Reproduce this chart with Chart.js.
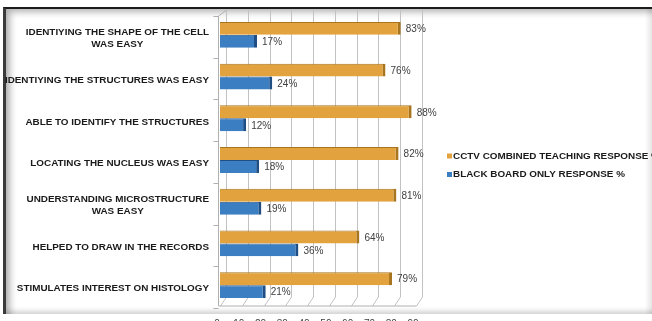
<!DOCTYPE html>
<html>
<head>
<meta charset="utf-8">
<script src="https://cdn.jsdelivr.net/npm/chart.js@4"></script>
<style>
  html, body { margin: 0; padding: 0; background: #fff; overflow: hidden; }
  #wrap { position: relative; width: 652px; height: 321px; overflow: hidden; }
  #frame {
    position: absolute; left: 3px; top: 7px; width: 660px; height: 305px;
    border-top: 2px solid #1c1c1c; border-left: 3px solid #3a3a3a;
    box-shadow: inset 7px 6px 7px -3px rgba(0,0,0,0.30), inset 0 -5px 5px -2px rgba(0,0,0,0.18);
  }
  #edge { position: absolute; right: 0; top: 9px; width: 7px; height: 305px;
    background: linear-gradient(to right, rgba(0,0,0,0), rgba(0,0,0,0.10)); }
  canvas { position: absolute; left: 0; top: 0; }
</style>
</head>
<body>
<div id="wrap">
  <div id="frame"></div>
  <div id="edge"></div>
  <canvas id="chart" width="652" height="330"></canvas>
</div>
<script>
const categories = [
  ['IDENTIYING THE SHAPE OF THE CELL', 'WAS EASY'],
  'IDENTIYING THE STRUCTURES WAS EASY',
  'ABLE TO IDENTIFY THE STRUCTURES',
  'LOCATING THE NUCLEUS WAS EASY',
  ['UNDERSTANDING MICROSTRUCTURE', 'WAS EASY'],
  'HELPED TO DRAW IN THE RECORDS',
  'STIMULATES INTEREST ON HISTOLOGY'
];
const cctvValues = [83, 76, 88, 82, 81, 64, 79];
const blackboardValues = [17, 24, 12, 18, 19, 36, 21];
const seriesNames = ['CCTV COMBINED TEACHING RESPONSE %', 'BLACK BOARD ONLY RESPONSE %'];
const axisMax = 90;
const axisStep = 10;

const labelFont = 'bold 9.9px "Liberation Sans", Arial, sans-serif';
const dx = 6, dy = 9; // 3d depth of the back wall

// back wall, floor and left wall, drawn from the scales
const wallPlugin = {
  id: 'wall',
  beforeDatasetsDraw(chart) {
    const { ctx, chartArea: a, scales: { x } } = chart;
    ctx.save();
    ctx.lineWidth = 1;
    ctx.strokeStyle = '#c2c2c2';
    x.ticks.forEach(t => {
      const px = Math.round(x.getPixelForValue(t.value)) + 0.5;
      ctx.beginPath();
      ctx.moveTo(px + dx, a.top - 4);
      ctx.lineTo(px + dx, a.bottom - dy);
      ctx.lineTo(px, a.bottom);
      ctx.stroke();
    });
    const lx = Math.round(a.left) - 1.5;
    ctx.strokeStyle = '#b0b0b0';
    ctx.beginPath();
    ctx.moveTo(lx + dx + 2, a.top - 4);
    ctx.lineTo(lx, a.top + 2);
    ctx.lineTo(lx, a.bottom);
    ctx.lineTo(Math.round(a.right) + 0.5, a.bottom);
    ctx.stroke();
    // tick marks between categories
    for (let i = 0; i <= categories.length; i++) {
      const py = Math.round(a.top + (a.bottom - a.top) * i / categories.length) + 2.5;
      ctx.beginPath();
      ctx.moveTo(lx - 5, py);
      ctx.lineTo(lx, py);
      ctx.stroke();
    }
    ctx.restore();
  },
  afterDraw(chart) {
    const { ctx, chartArea: a, scales: { y } } = chart;
    ctx.save();
    // category labels, lines centred inside a right-aligned block
    ctx.font = labelFont;
    ctx.fillStyle = '#1a1a1a';
    ctx.textAlign = 'center';
    ctx.textBaseline = 'middle';
    categories.forEach((cat, i) => {
      const lines = Array.isArray(cat) ? cat : [cat];
      const w = Math.max(...lines.map(l => ctx.measureText(l).width));
      const cx = a.left - 11 - w / 2;
      const cy = y.getPixelForValue(i) + 3.5;
      lines.forEach((l, j) => {
        ctx.fillText(l, cx, cy + (j - (lines.length - 1) / 2) * 12);
      });
    });
    // value labels
    ctx.font = '10px "Liberation Sans", Arial, sans-serif';
    ctx.fillStyle = '#404040';
    ctx.textAlign = 'left';
    chart.data.datasets.forEach((ds, di) => {
      chart.getDatasetMeta(di).data.forEach((bar, i) => {
        ctx.fillText(ds.data[i] + '%', bar.x + 5, bar.y + 1);
      });
    });
    // legend
    ctx.font = labelFont;
    const ly = (a.top + a.bottom) / 2 - 4;
    chart.data.datasets.forEach((ds, di) => {
      const yy = ly + di * 18.5;
      ctx.fillStyle = ds.backgroundColor;
      ctx.fillRect(a.right + 31, yy - 2.5, 5, 5);
      ctx.fillStyle = '#1a1a1a';
      ctx.fillText(ds.label, a.right + 37, yy);
    });
    ctx.restore();
  }
};

new Chart(document.getElementById('chart'), {
  type: 'bar',
  data: {
    labels: categories,
    datasets: [
      {
        label: seriesNames[0],
        data: cctvValues,
        backgroundColor: '#E2A23E',
        borderColor: '#A8741E',
        borderWidth: { top: 1, right: 3, bottom: 0, left: 0 },
        borderSkipped: 'left'
      },
      {
        label: seriesNames[1],
        data: blackboardValues,
        backgroundColor: '#3B7EC2',
        borderColor: '#1F4E85',
        borderWidth: { top: 1, right: 3, bottom: 0, left: 0 },
        borderSkipped: 'left'
      }
    ]
  },
  options: {
    indexAxis: 'y',
    responsive: false,
    animation: false,
    layout: { padding: { left: 0, right: 236, top: 14, bottom: 0 } },
    datasets: { bar: { categoryPercentage: 0.62, barPercentage: 1 } },
    scales: {
      x: {
        min: 0,
        max: axisMax,
        grid: { display: false, drawTicks: false },
        border: { display: false },
        ticks: {
          stepSize: axisStep,
          padding: 12,
          labelOffset: -3,
          color: '#404040',
          font: { family: '"Liberation Sans", Arial, sans-serif', size: 10 }
        },
        afterFit: s => { s.height = 24; }
      },
      y: {
        grid: { display: false, drawTicks: false },
        border: { display: false },
        ticks: { display: false },
        afterFit: s => { s.width = 220; }
      }
    },
    plugins: {
      legend: { display: false },
      tooltip: { enabled: false }
    }
  },
  plugins: [wallPlugin]
});
</script>
</body>
</html>
